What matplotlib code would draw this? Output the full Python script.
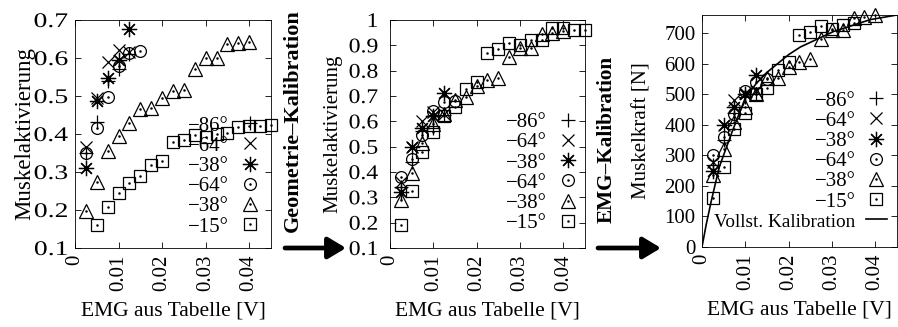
import numpy as np
import matplotlib
matplotlib.use("Agg")
import matplotlib.pyplot as plt
from matplotlib.patches import FancyArrowPatch
from matplotlib.patheffects import AbstractPathEffect
from matplotlib.transforms import Affine2D

plt.rcParams['font.family'] = ['Liberation Serif', 'DejaVu Serif']

# EMG values (x) per series
x_a = [0.0025, 0.005, 0.0075, 0.01, 0.0125]
x_c = [0.0025, 0.005, 0.0075, 0.01, 0.0125, 0.015]
x_t = [0.0025, 0.005, 0.0075, 0.01, 0.0125, 0.015, 0.0175, 0.02,
       0.0225, 0.025, 0.0275, 0.03, 0.0325, 0.035, 0.0375, 0.04]
x_s1 = [0.005, 0.0075, 0.01, 0.0125, 0.015, 0.0175, 0.02, 0.0225, 0.025,
        0.0275, 0.03, 0.0325, 0.035, 0.0375, 0.04, 0.0425, 0.045]
x_s2 = [0.0025] + x_s1
x_s3 = [0.0025, 0.005, 0.0075, 0.01, 0.0125, 0.015, 0.0175, 0.02,
        0.0225, 0.025, 0.0275, 0.03, 0.0325, 0.035]

labels = ["\u221286\u00b0", "\u221264\u00b0", "\u221238\u00b0",
          "\u221264\u00b0", "\u221238\u00b0", "\u221215\u00b0"]

# panel 1: before calibration
p1_86 = [0.35, 0.432, 0.54, 0.57, 0.61]
p1_64a = [0.367, 0.495, 0.59, 0.62, 0.615]
p1_38a = [0.31, 0.487, 0.548, 0.595, 0.676]
p1_64b = [0.35, 0.415, 0.498, 0.58, 0.614, 0.618]
p1_38b = [0.198, 0.275, 0.356, 0.395, 0.43, 0.466, 0.468, 0.494,
          0.514, 0.516, 0.57, 0.60, 0.60, 0.638, 0.64, 0.643]
p1_15 = [0.161, 0.209, 0.244, 0.272, 0.29, 0.318, 0.33, 0.378, 0.385,
         0.398, 0.393, 0.40, 0.403, 0.418, 0.42, 0.42, 0.425]

# panel 2: after geometry calibration
p2_86 = [0.34, 0.44, 0.56, 0.575, 0.625]
p2_64a = [0.36, 0.5, 0.6, 0.635, 0.63]
p2_38a = [0.32, 0.5, 0.575, 0.62, 0.71]
p2_64b = [0.38, 0.45, 0.545, 0.64, 0.675, 0.68]
p2_38b = [0.29, 0.395, 0.513, 0.59, 0.63, 0.685, 0.695, 0.74,
          0.763, 0.77, 0.853, 0.89, 0.89, 0.946, 0.95, 0.958]
p2_15 = [0.19, 0.326, 0.48, 0.558, 0.62, 0.658, 0.726, 0.756, 0.868,
         0.885, 0.91, 0.90, 0.92, 0.92, 0.97, 0.97, 0.96, 0.96]

# panel 3: after EMG calibration (force in N)
p3_86 = [270, 350, 440, 490, 500]
p3_64a = [280, 400, 480, 505, 510]
p3_38a = [250, 400, 460, 500, 565]
p3_64b = [300, 360, 435, 510, 540, 550]
p3_38b = [235, 320, 410, 460, 500, 555, 555, 590, 605, 615, 680, 710,
          712, 750, 755, 760]
p3_15 = [159, 263, 385, 440, 500, 520, 580, 605, 695, 705, 725, 715,
         728, 735]
curve_x = [0, 0.001, 0.0022, 0.004, 0.0069, 0.01, 0.0125, 0.015, 0.02,
           0.0227, 0.0304, 0.0389, 0.045]
curve_y = [0, 75, 154, 262, 375, 488, 535, 572, 630, 655, 706, 745, 760]

xticks = [0, 0.01, 0.02, 0.03, 0.04]
xticklabels = ["0", "0.01", "0.02", "0.03", "0.04"]

FS = 15
styles = [
    dict(marker='+', ms=10, dot=False),
    dict(marker='x', ms=8.5, dot=False),
    dict(marker=(8, 2, 0), ms=11, dot=False),
    dict(marker='o', ms=8.5, dot=True),
    dict(marker='^', ms=9.5, dot=True),
    dict(marker='s', ms=8.7, dot=True),
]


class Stretch(AbstractPathEffect):
    # widen glyphs horizontally, keeping the right end in place
    def __init__(self, sx):
        super().__init__()
        self.sx = sx

    def draw_path(self, renderer, gc, tpath, affine, rgbFace=None):
        x1 = tpath.get_extents().x1
        t = Affine2D().translate(-x1, 0).scale(self.sx, 1).translate(x1, 0) + affine
        renderer.draw_path(gc, tpath, t, rgbFace)


fig = plt.figure(figsize=(8.98, 3.27), dpi=100)
ax1 = fig.add_axes([0.0835, 0.2416, 0.2183, 0.6972])
ax2 = fig.add_axes([0.4343, 0.2416, 0.2171, 0.6972])
ax3 = fig.add_axes([0.7817, 0.2446, 0.2170, 0.7095])


def draw(ax, series):
    handles = []
    for (xs, ys), st, lab in zip(series, styles, labels):
        h, = ax.plot(xs, ys, linestyle='none', marker=st['marker'],
                     ms=st['ms'], mfc='none', mec='black', mew=0.9,
                     zorder=3, clip_on=False)
        if st['dot']:
            d, = ax.plot(xs, ys, linestyle='none', marker='.', ms=1.6,
                         color='black', zorder=3, clip_on=False)
            handles.append((h, d))
        else:
            handles.append(h)
    return handles


def style(ax, ypad):
    ax.set_xlim(0, 0.045)
    ax.set_xticks(xticks)
    ax.set_xticklabels(xticklabels, rotation=90)
    ax.tick_params(direction='in', top=True, right=True, length=4,
                   width=0.6, labelsize=FS)
    ax.tick_params(axis='x', pad=4.5)
    ax.tick_params(axis='y', pad=ypad)
    for sp in ax.spines.values():
        sp.set_linewidth(0.6)
    ax.set_xlabel("EMG aus Tabelle [V]", fontsize=FS + 0.5, labelpad=8)


def legend(ax, handles, labs, anchor):
    lg = ax.legend(handles, labs, loc='lower right', bbox_to_anchor=anchor,
                   frameon=False, markerfirst=False, numpoints=1,
                   handlelength=1.0, handletextpad=0.5, labelspacing=0.03,
                   borderpad=0, borderaxespad=0, fontsize=FS)
    lg.set_zorder(1)
    return lg


h1 = draw(ax1, [(x_a, p1_86), (x_a, p1_64a), (x_a, p1_38a), (x_c, p1_64b),
                (x_t, p1_38b), (x_s1, p1_15)])
style(ax1, 5)
ax1.set_ylim(0.1, 0.7)
ax1.set_yticks([0.1, 0.2, 0.3, 0.4, 0.5, 0.6, 0.7])
ax1.set_yticklabels(["0.1", "0.2", "0.3", "0.4", "0.5", "0.6", "0.7"])
for t in ax1.yaxis.get_major_ticks():
    t.label1.set_path_effects([Stretch(1.33)])
ax1.set_ylabel("Muskelaktivierung", fontsize=16.5, labelpad=5)
legend(ax1, h1, labels, (0.944, 0.05))

h2 = draw(ax2, [(x_a, p2_86), (x_a, p2_64a), (x_a, p2_38a), (x_c, p2_64b),
                (x_t, p2_38b), (x_s2, p2_15)])
style(ax2, 8.5)
ax2.set_ylim(0.1, 1.0)
ax2.set_yticks([0.1, 0.2, 0.3, 0.4, 0.5, 0.6, 0.7, 0.8, 0.9, 1.0])
ax2.set_yticklabels(["0.1", "0.2", "0.3", "0.4", "0.5", "0.6", "0.7",
                     "0.8", "0.9", "1"])
for t in ax2.yaxis.get_major_ticks():
    t.label1.set_path_effects([Stretch(1.14)])
ax2.set_ylabel("Muskelaktivierung", fontsize=FS, labelpad=7)
legend(ax2, h2, labels, (0.964, 0.065))

h3 = draw(ax3, [(x_a, p3_86), (x_a, p3_64a), (x_a, p3_38a), (x_c, p3_64b),
                (x_t, p3_38b), (x_s3, p3_15)])
line, = ax3.plot(curve_x, curve_y, color='black', lw=1.2, zorder=2)
style(ax3, 4.5)
ax3.set_ylim(0, 760)
ax3.set_yticks(range(0, 701, 100))
ax3.set_ylabel("Muskelkraft [N]", fontsize=FS, labelpad=9)
lg3 = legend(ax3, h3 + [line], labels + ["Vollst. Kalibration"], (0.949, 0.07))
lg3.get_texts()[-1].set_fontsize(13.9)

# step labels and arrows between the panels
fig.text(293 / 898, 1 - 121 / 327, "Geometrie\u2013Kalibration", rotation=90,
         ha='center', va='center', fontsize=16, fontweight='bold')
fig.text(607 / 898, 1 - 139 / 327, "EMG\u2013Kalibration", rotation=90,
         ha='center', va='center', fontsize=15.3, fontweight='bold')
for x0, x1 in [(285, 346), (598, 661)]:
    fig.add_artist(FancyArrowPatch(
        (x0 / 898, 1 - 248 / 327), (x1 / 898, 1 - 248 / 327),
        transform=fig.transFigure,
        arrowstyle='-|>,head_length=0.6,head_width=0.36',
        mutation_scale=18, lw=3.4, color='black', shrinkA=0, shrinkB=0))

fig.savefig("out.png", dpi=100)
